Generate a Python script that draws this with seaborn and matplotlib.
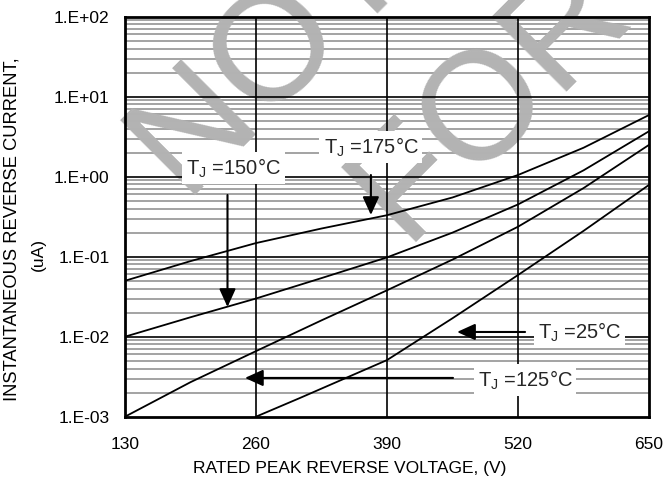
import numpy as np
import pandas as pd
import matplotlib
matplotlib.use("Agg")
import matplotlib.pyplot as plt
import seaborn as sns

# ---------------- data ----------------
volts_175 = [130, 195, 260, 325, 390, 455, 520, 585, 650]
curr_175 = [0.05, 0.088, 0.148, 0.225, 0.33, 0.55, 1.05, 2.3, 5.9]

volts_150 = [130, 195, 260, 325, 390, 455, 520, 585, 650]
curr_150 = [0.01, 0.0175, 0.030, 0.054, 0.098, 0.20, 0.45, 1.2, 3.7]

volts_125 = [130, 195, 260, 325, 390, 455, 520, 585, 650]
curr_125 = [0.001, 0.0027, 0.0066, 0.016, 0.038, 0.092, 0.237, 0.72, 2.5]

volts_25 = [260, 303, 390, 455, 520, 585, 650]
curr_25 = [0.001, 0.0017, 0.0051, 0.017, 0.059, 0.21, 0.79]

series_names = ["175", "150", "125", "25"]

x_ticks = [130, 260, 390, 520, 650]
y_ticks = [1e-3, 1e-2, 1e-1, 1e0, 1e1, 1e2]
y_tick_labels = ["1.E-03", "1.E-02", "1.E-01", "1.E+00", "1.E+01", "1.E+02"]

label_texts = ["T$_\\mathregular{J}$ =175°C", "T$_\\mathregular{J}$ =150°C",
               "T$_\\mathregular{J}$ =25°C", "T$_\\mathregular{J}$ =125°C"]
label_pos = [(374, 2.35), (238, 1.28), (581, 0.01145), (527, 0.00288)]
arrow_start = [(374, 1.05), (231.7, 0.59), (527, 0.01145), (455.5, 0.00305)]
arrow_end = [(374, 0.332), (231.7, 0.0235), (459.5, 0.01145), (249, 0.00305)]

x_label = "RATED PEAK REVERSE VOLTAGE, (V)"
y_label_1 = "INSTANTANEOUS REVERSE CURRENT,"
y_label_2 = "(uA)"
watermark_words = ["NOT", "FOR"]

# ---------------- build ----------------
df = pd.concat([
    pd.DataFrame({"V": volts_175, "I": curr_175, "Tj": "175"}),
    pd.DataFrame({"V": volts_150, "I": curr_150, "Tj": "150"}),
    pd.DataFrame({"V": volts_125, "I": curr_125, "Tj": "125"}),
    pd.DataFrame({"V": volts_25, "I": curr_25, "Tj": "25"}),
], ignore_index=True)

sns.set_theme(style="white")
plt.rcParams["font.family"] = ["Liberation Sans", "DejaVu Sans"]
plt.rcParams["mathtext.fontset"] = "custom"
plt.rcParams["mathtext.rm"] = "Liberation Sans"

fig = plt.figure(figsize=(6.66, 4.87), dpi=100)
ax = fig.add_axes([0.1877, 0.1444, 0.7868, 0.8213])
ax.set_yscale("log")
ax.set_xlim(130, 650)
ax.set_ylim(1e-3, 1e2)

# minor gray grid
for d in range(-3, 2):
    for m in range(2, 10):
        ax.axhline(m * 10.0 ** d, color="#a3a3a3", lw=1.4, zorder=1)
# major black grid
for yv in y_ticks[1:-1]:
    ax.axhline(yv, color="black", lw=1.2, zorder=2)
for xv in x_ticks[1:-1]:
    ax.axvline(xv, color="black", lw=1.2, zorder=2)

# watermark
wm_kw = dict(transform=fig.transFigure, rotation=45, rotation_mode="anchor",
             ha="center", va="center", fontsize=111, color="#b3b3b3",
             clip_on=False, zorder=1.5)
ax.text(0.405, 0.893, watermark_words[0], **wm_kw)
ax.text(0.736, 0.797, watermark_words[1], **wm_kw)

sns.lineplot(data=df, x="V", y="I", hue="Tj", hue_order=series_names,
             palette=["black"] * 4, legend=False, lw=1.3, ax=ax, zorder=3,
             estimator=None, sort=False)

for txt, (lx, ly) in zip(label_texts, label_pos):
    ax.text(lx, ly, txt, fontsize=14.5, ha="center", va="center", zorder=6,
            bbox=dict(boxstyle="square,pad=0.2", fc="white", ec="none"))
for (sx, sy), (ex, ey) in zip(arrow_start, arrow_end):
    ax.annotate("", xy=(ex, ey), xytext=(sx, sy), zorder=5,
                arrowprops=dict(arrowstyle="-|>,head_length=0.55,head_width=0.25",
                                mutation_scale=20, lw=1.5, color="black",
                                shrinkA=0, shrinkB=0))

ax.set_xticks(x_ticks)
ax.set_xticklabels([str(v) for v in x_ticks])
ax.set_yticks(y_ticks)
ax.set_yticklabels(y_tick_labels)
ax.yaxis.set_minor_locator(matplotlib.ticker.NullLocator())
ax.tick_params(axis="both", length=0, labelsize=12.5, colors="black")
ax.tick_params(axis="y", pad=11)
ax.tick_params(axis="x", pad=14.5)
ax.set_xlabel("")
ax.set_ylabel("")
fig.text(0.525, 1 - 468 / 487, x_label, ha="center", va="center",
         fontsize=12.5, color="black")
fig.text(0.018, 0.530, y_label_1, rotation=90, ha="center", va="center",
         fontsize=13.2, color="black")
fig.text(0.057, 0.478, y_label_2, rotation=90, ha="center", va="center",
         fontsize=12.5, color="black")

for s in ax.spines.values():
    s.set_color("black")
    s.set_linewidth(2)
    s.set_zorder(4)

fig.savefig("out.png", dpi=100)
